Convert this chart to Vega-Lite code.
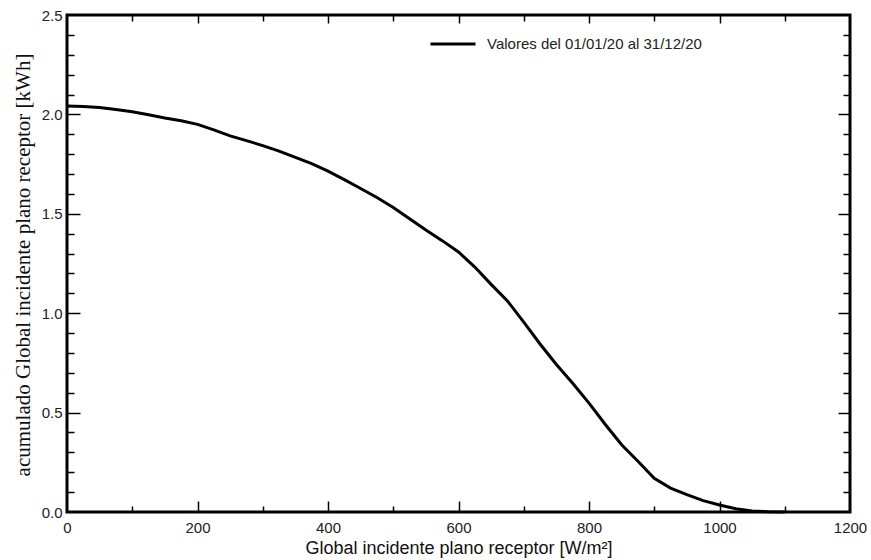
{
  "$schema": "https://vega.github.io/schema/vega-lite/v6.json",
  "autosize": {"type": "none"},
  "padding": {"left": 67, "top": 15, "right": 21, "bottom": 48},
  "width": 783,
  "height": 497,
  "background": "white",
  "config": {
    "view": {"stroke": "#000", "strokeWidth": 3},
    "axis": {"domain": false, "grid": false, "tickColor": "#000", "tickWidth": 1.5, "labelFont": "Liberation Sans", "labelFontSize": 15, "labelColor": "#222", "labelFlush": false, "labelOverlap": false}
  },
  "data": {"values": [
    {"gi": 0, "acc": 2.042}, {"gi": 25, "acc": 2.04}, {"gi": 50, "acc": 2.035}, {"gi": 75, "acc": 2.025},
    {"gi": 100, "acc": 2.013}, {"gi": 125, "acc": 1.998}, {"gi": 150, "acc": 1.982}, {"gi": 175, "acc": 1.968},
    {"gi": 200, "acc": 1.95}, {"gi": 225, "acc": 1.922}, {"gi": 250, "acc": 1.892}, {"gi": 275, "acc": 1.868},
    {"gi": 300, "acc": 1.843}, {"gi": 325, "acc": 1.815}, {"gi": 350, "acc": 1.784}, {"gi": 375, "acc": 1.752},
    {"gi": 400, "acc": 1.715}, {"gi": 425, "acc": 1.672}, {"gi": 450, "acc": 1.627}, {"gi": 475, "acc": 1.582},
    {"gi": 500, "acc": 1.532}, {"gi": 525, "acc": 1.475}, {"gi": 550, "acc": 1.418}, {"gi": 575, "acc": 1.365},
    {"gi": 600, "acc": 1.308}, {"gi": 625, "acc": 1.232}, {"gi": 650, "acc": 1.145}, {"gi": 675, "acc": 1.062},
    {"gi": 700, "acc": 0.955}, {"gi": 725, "acc": 0.845}, {"gi": 750, "acc": 0.742}, {"gi": 775, "acc": 0.648},
    {"gi": 800, "acc": 0.548}, {"gi": 825, "acc": 0.44}, {"gi": 850, "acc": 0.338}, {"gi": 875, "acc": 0.255},
    {"gi": 900, "acc": 0.17}, {"gi": 925, "acc": 0.12}, {"gi": 950, "acc": 0.087}, {"gi": 975, "acc": 0.057},
    {"gi": 1000, "acc": 0.035}, {"gi": 1025, "acc": 0.016}, {"gi": 1050, "acc": 0.005}, {"gi": 1075, "acc": 0.001},
    {"gi": 1100, "acc": 0.0}
  ]},
  "layer": [
    {
      "mark": {"type": "line", "strokeWidth": 3},
      "encoding": {
        "x": {"field": "gi", "type": "quantitative", "scale": {"domain": [0, 1200], "nice": false},
          "axis": {"orient": "bottom", "values": [0, 200, 400, 600, 800, 1000, 1200], "format": "d", "ticks": false, "labelPadding": 8,
            "title": "Global incidente plano receptor [W/m²]", "titleFont": "Liberation Sans", "titleFontSize": 18, "titleFontWeight": "normal", "titleColor": "#111",
            "titleX": 391.5, "titleY": 36, "titleBaseline": "middle", "titleAlign": "center"}},
        "y": {"field": "acc", "type": "quantitative", "scale": {"domain": [0, 2.5], "nice": false},
          "axis": {"orient": "left", "values": [0, 0.5, 1, 1.5, 2, 2.5], "format": ".1f", "ticks": false, "labelPadding": 5,
            "title": "acumulado Global incidente plano receptor [kWh]", "titleFont": "Liberation Serif", "titleFontSize": 21, "titleFontWeight": "normal", "titleColor": "#111",
            "titleAngle": -90, "titleX": -44, "titleY": 249.5, "titleAlign": "center", "titleBaseline": "middle"}},
        "color": {"datum": "Valores del 01/01/20 al 31/12/20", "type": "nominal", "scale": {"range": ["#000"]},
          "legend": {"title": null, "orient": "none", "legendX": 362, "legendY": 5, "symbolType": "stroke", "symbolSize": 2025, "symbolStrokeWidth": 3, "symbolStrokeColor": "#000",
            "labelFont": "Liberation Sans", "labelFontSize": 15, "labelColor": "#222", "labelOffset": 10, "padding": 0, "labelLimit": 400}}
      }
    },
    {
      "mark": {"type": "point", "opacity": 0},
      "encoding": {
        "x": {"field": "gi", "type": "quantitative", "axis": {"orient": "bottom", "values": [200, 400, 600, 800, 1000], "labels": false, "tickSize": -11, "title": null}},
        "y": {"field": "acc", "type": "quantitative", "axis": {"orient": "left", "values": [0.5, 1, 1.5, 2], "labels": false, "tickSize": -13, "title": null}}
      }
    },
    {
      "mark": {"type": "point", "opacity": 0},
      "encoding": {
        "x": {"field": "gi", "type": "quantitative", "axis": {"orient": "bottom", "values": [100, 300, 500, 700, 900, 1100], "labels": false, "tickSize": -6, "title": null}},
        "y": {"field": "acc", "type": "quantitative", "axis": {"orient": "left", "values": [0.1, 0.2, 0.3, 0.4, 0.6, 0.7, 0.8, 0.9, 1.1, 1.2, 1.3, 1.4, 1.6, 1.7, 1.8, 1.9, 2.1, 2.2, 2.3, 2.4], "labels": false, "tickSize": -7, "title": null}}
      }
    },
    {
      "mark": {"type": "point", "opacity": 0},
      "encoding": {
        "x": {"field": "gi", "type": "quantitative", "axis": {"orient": "top", "values": [200, 400, 600, 800, 1000], "labels": false, "tickSize": -8, "title": null}},
        "y": {"field": "acc", "type": "quantitative", "axis": {"orient": "right", "values": [0.5, 1, 1.5, 2], "labels": false, "tickSize": -12, "title": null}}
      }
    },
    {
      "mark": {"type": "point", "opacity": 0},
      "encoding": {
        "x": {"field": "gi", "type": "quantitative", "axis": {"orient": "top", "values": [100, 300, 500, 700, 900, 1100], "labels": false, "tickSize": -6, "title": null}},
        "y": {"field": "acc", "type": "quantitative", "axis": {"orient": "right", "values": [0.1, 0.2, 0.3, 0.4, 0.6, 0.7, 0.8, 0.9, 1.1, 1.2, 1.3, 1.4, 1.6, 1.7, 1.8, 1.9, 2.1, 2.2, 2.3, 2.4], "labels": false, "tickSize": -7, "title": null}}
      }
    }
  ],
  "resolve": {"axis": {"x": "independent", "y": "independent"}}
}
